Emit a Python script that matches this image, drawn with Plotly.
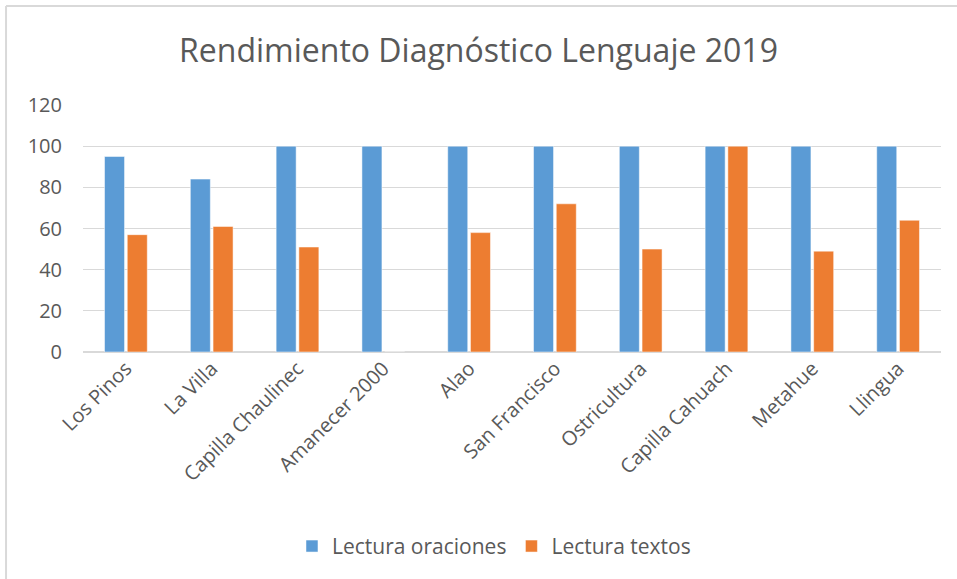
import plotly.graph_objects as go

# ── 数据 ─────────────────────────────────
escuelas = [
    "Los Pinos", "La Villa", "Capilla Chaulinec", "Amanecer 2000", "Alao",
    "San Francisco", "Ostricultura", "Capilla Cahuach", "Metahue", "Llingua",
]
lectura_oraciones = [95, 84, 100, 100, 100, 100, 100, 100, 100, 100]
lectura_textos = [57, 61, 51, 0, 58, 72, 50, 100, 49, 64]

GRIS = "#595959"
FUENTE = "Open Sans"

fig = go.Figure()
fig.add_trace(go.Bar(
    x=escuelas, y=lectura_oraciones, name="Lectura oraciones",
    marker=dict(color="#5B9BD5", line=dict(color="white", width=0.5)),
))
fig.add_trace(go.Bar(
    x=escuelas, y=lectura_textos, name="Lectura textos",
    marker=dict(color="#ED7D31", line=dict(color="white", width=0.5)),
))

# 外框线（Excel 图表边框，只露出左边和上边）
for s in [
    dict(x0=-0.0897, x1=-0.0897, y0=-0.95, y1=1.4008),
    dict(x0=-0.0897, x1=1.05, y0=1.4008, y1=1.4008),
]:
    fig.add_shape(type="line", xref="paper", yref="paper",
                  line=dict(color="#d9d9d9", width=2), **s)

fig.update_layout(
    width=957, height=579,
    margin=dict(l=83, r=16, t=105, b=227),
    paper_bgcolor="white", plot_bgcolor="white",
    font=dict(family=FUENTE, color=GRIS, size=20),
    title=dict(text="Rendimiento Diagnóstico Lenguaje 2019",
               x=0.5, xanchor="center", y=0.913, yanchor="middle",
               font=dict(size=32, color=GRIS, family=FUENTE)),
    barmode="group", bargap=0.47, bargroupgap=0.12,
    showlegend=True,
    legend=dict(orientation="h", x=0.479, xanchor="center", y=-0.787, yanchor="middle",
                font=dict(size=21, color=GRIS), itemwidth=30),
)
fig.update_xaxes(tickangle=-45, showline=False, ticks="", automargin=False,
                 tickfont=dict(size=20, color=GRIS))
fig.update_yaxes(range=[0, 120], dtick=20, showgrid=True, gridcolor="#d9d9d9",
                 gridwidth=1, zeroline=True, zerolinecolor="#d9d9d9", ticks="",
                 automargin=False, ticklabelstandoff=20,
                 tickfont=dict(size=20, color=GRIS))

# 去掉页面 body 默认的 8px 边距
fig.write_html("out.html", config={"displayModeBar": False},
               post_script="document.body.style.margin='0';")
